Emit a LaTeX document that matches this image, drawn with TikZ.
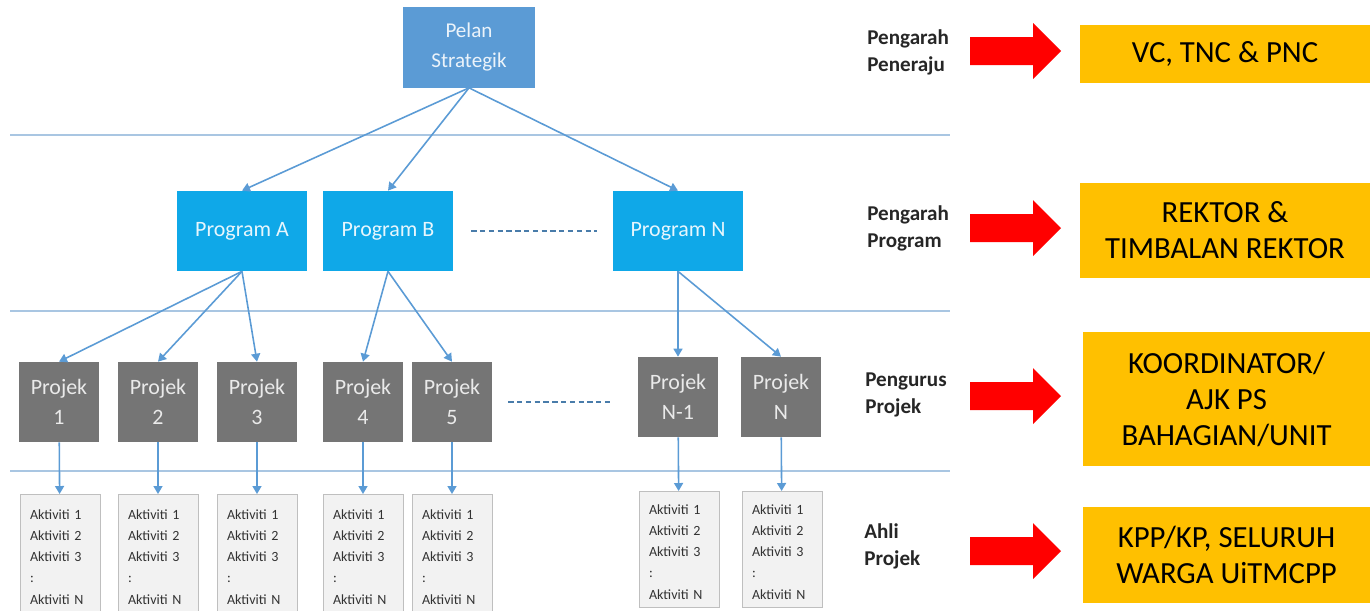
\documentclass[tikz,border=0pt]{standalone}
\usepackage{fontspec}
\setmainfont{Carlito}
\usetikzlibrary{arrows.meta}

\definecolor{pelanbiru}{HTML}{5B9BD5}
\definecolor{programbiru}{HTML}{0FA8E8}
\definecolor{projekkelabu}{HTML}{757575}
\definecolor{garisbiru}{HTML}{A9C6E2}
\definecolor{anakpanah}{HTML}{5B9BD5}
\definecolor{kuning}{HTML}{FFC000}
\definecolor{aktlatar}{HTML}{F2F2F2}
\definecolor{aktgaris}{HTML}{BFBFBF}

\newcommand{\aktsenarai}{\rule{0pt}{8.6pt}Aktiviti 1\\Aktiviti 2\\Aktiviti 3\\:\\Aktiviti N}

\tikzset{
  pelanbox/.style={fill=pelanbiru,text=white!88!pelanbiru,minimum width=2.64cm,minimum height=1.62cm,
    align=center,font=\fontsize{12}{17.5}\selectfont},
  programbox/.style={fill=programbiru,text=white!90!programbiru,minimum width=2.6cm,minimum height=1.6cm,
    align=center,font=\fontsize{12.5}{17}\selectfont},
  projekbox/.style={fill=projekkelabu,text=white!85!projekkelabu,minimum width=1.6cm,minimum height=1.6cm,
    align=center,font=\fontsize{12.5}{17}\selectfont},
  aktbox/.style={draw=aktgaris,fill=aktlatar,text=black!80,minimum width=1.6cm,minimum height=2.32cm,
    anchor=north,align=left,text width=1.2cm,font=\fontsize{8}{12}\selectfont},
  peranan/.style={anchor=west,inner sep=0pt,align=left,text=black!85,font=\bfseries\fontsize{12}{15.5}\selectfont},
  hasilbox/.style={fill=kuning,minimum width=5.8cm,align=center,font=\fontsize{17.5}{20.5}\selectfont},
  garis/.style={garisbiru,line width=0.9pt},
  hubung/.style={->,anakpanah,line width=0.9pt},
  putus/.style={anakpanah!80!black,line width=0.7pt,dash pattern=on 3pt off 2pt}
}

\begin{document}
\begin{tikzpicture}[x=0.02cm,y=-0.02cm,>={Triangle[length=1.6mm,width=1.8mm]}]
  \useasboundingbox (0,0) rectangle (1370,610);

  % garis pemisah aras
  \draw[garis] (10,135) -- (950,135);
  \draw[garis] (10,311) -- (950,311);
  \draw[garis] (10,471) -- (950,471);

  \node[pelanbox] (pelan) at (469,47) {Pelan\\Strategik};

  \node[programbox] (progA) at (242,231) {Program A};
  \node[programbox] (progB) at (388,231) {Program B};
  \node[programbox] (progN) at (678,231) {Program N};

  \node[projekbox] (proj1) at (59,402) {Projek\\1};
  \node[projekbox] (proj2) at (158,402) {Projek\\2};
  \node[projekbox] (proj3) at (257,402) {Projek\\3};
  \node[projekbox] (proj4) at (363,402) {Projek\\4};
  \node[projekbox] (proj5) at (452,402) {Projek\\5};
  \node[projekbox] (projN1) at (678,397) {Projek\\N-1};
  \node[projekbox] (projN) at (781,397) {Projek\\N};

  \node[aktbox,minimum height=2.4cm] (akt1) at (60,494) {\aktsenarai};
  \node[aktbox,minimum height=2.4cm] (akt2) at (158,494) {\aktsenarai};
  \node[aktbox,minimum height=2.4cm] (akt3) at (257,494) {\aktsenarai};
  \node[aktbox,minimum height=2.4cm] (akt4) at (363,494) {\aktsenarai};
  \node[aktbox,minimum height=2.4cm] (akt5) at (452,494) {\aktsenarai};
  \node[aktbox] (aktN1) at (679,491) {\aktsenarai};
  \node[aktbox] (aktN) at (782,491) {\aktsenarai};

  \draw[hubung] (pelan.south) -- (progA.north);
  \draw[hubung] (pelan.south) -- (progB.north);
  \draw[hubung] (pelan.south) -- (progN.north);
  \draw[hubung] (progA.south) -- (proj1.north);
  \draw[hubung] (progA.south) -- (proj2.north);
  \draw[hubung] (progA.south) -- (proj3.north);
  \draw[hubung] (progB.south) -- (proj4.north);
  \draw[hubung] (progB.south) -- (proj5.north);
  \draw[hubung] (progN.south) -- (projN1.north);
  \draw[hubung] (progN.south) -- (projN.north);
  \draw[hubung] (proj1) -- (akt1);
  \draw[hubung] (proj2) -- (akt2);
  \draw[hubung] (proj3) -- (akt3);
  \draw[hubung] (proj4) -- (akt4);
  \draw[hubung] (proj5) -- (akt5);
  \draw[hubung] (projN1) -- (aktN1);
  \draw[hubung] (projN) -- (aktN);

  \draw[putus,shorten <=0.36cm,shorten >=0.32cm] (progB.east) -- (progN.west);
  \draw[putus,shorten <=0.32cm,shorten >=0.56cm] (proj5.east) -- (proj5.east -| projN1.west);

  % label peranan
  \node[peranan] (lblPeneraju) at (867,52) {Pengarah\\Peneraju};
  \node[peranan] (lblProgram) at (867,228) {Pengarah\\Program};
  \node[peranan] (lblPengurus) at (865,395) {Pengurus\\Projek};
  \node[peranan] (lblAhli) at (864,546) {Ahli\\Projek};

  % anak panah merah
  \foreach \y in {51,228,396,551}
    \fill[red] (970,\y-14) -- (1033,\y-14) -- (1033,\y-28) -- (1061,\y)
      -- (1033,\y+28) -- (1033,\y+14) -- (970,\y+14) -- cycle;

  \node[hasilbox,minimum height=1.16cm] (hasilVC) at (1225,54) {VC, TNC \& PNC};
  \node[hasilbox,minimum height=1.9cm] (hasilRektor) at (1225,230.5) {REKTOR \&\\TIMBALAN REKTOR};
  \node[hasilbox,minimum height=2.68cm,minimum width=5.74cm] (hasilKoord) at (1226.5,399) {KOORDINATOR/\\AJK PS\\BAHAGIAN/UNIT};
  \node[hasilbox,minimum height=1.92cm,minimum width=5.74cm] (hasilWarga) at (1226.5,555) {KPP/KP, SELURUH\\WARGA UiTMCPP};
\end{tikzpicture}
\end{document}
